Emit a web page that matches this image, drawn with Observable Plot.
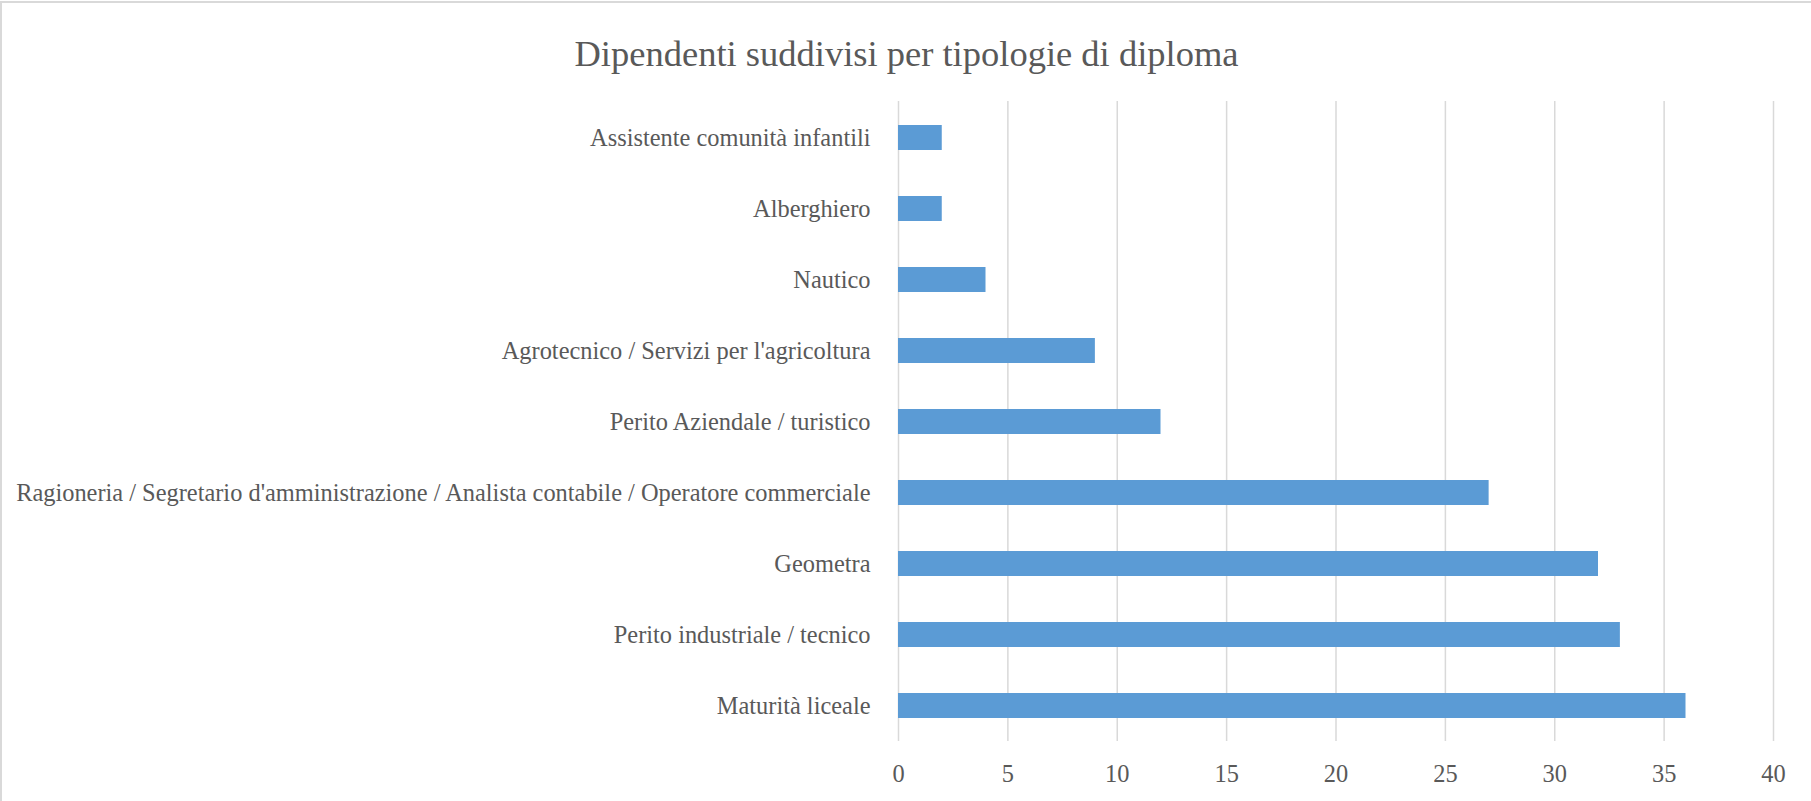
<!DOCTYPE html>
<html>
<head>
<meta charset="utf-8">
<script src="https://cdn.jsdelivr.net/npm/d3@7"></script>
<script src="https://cdn.jsdelivr.net/npm/@observablehq/plot@0.6"></script>
<style>
  html, body { margin: 0; padding: 0; background: #fff; }
  #chart {
    position: relative;
    width: 1811px; height: 800px; box-sizing: border-box;
    border-top: 2px solid #d9d9d9; border-left: 2px solid #d9d9d9;
    margin-top: 1px;
    overflow: hidden;
    font-family: "Liberation Serif", "Times New Roman", serif;
  }
  #title {
    height: 98px; box-sizing: border-box;
    padding-top: 31px;
    text-align: center; font-size: 36.5px; color: #595959;
    line-height: 40px; white-space: nowrap;
  }
  svg { display: block; }
</style>
</head>
<body>
<div id="chart">
  <div id="title">Dipendenti suddivisi per tipologie di diploma</div>
</div>
<script>
const categories = [
  "Assistente comunità infantili",
  "Alberghiero",
  "Nautico",
  "Agrotecnico / Servizi per l'agricoltura",
  "Perito Aziendale / turistico",
  "Ragioneria / Segretario d'amministrazione / Analista contabile / Operatore commerciale",
  "Geometra",
  "Perito industriale / tecnico",
  "Maturità liceale"
];
const values = [2, 2, 4, 9, 12, 27, 32, 33, 36];
const xTicks = [0, 5, 10, 15, 20, 25, 30, 35, 40];

const data = categories.map((c, i) => ({category: c, value: values[i]}));

const plot = Plot.plot({
  width: 1809,
  height: 700,
  marginLeft: 896,
  marginRight: 38,
  marginTop: 0,
  marginBottom: 60,
  style: {fontFamily: "'Liberation Serif', 'Times New Roman', serif", fontSize: "24.4px", color: "#595959", background: "white"},
  x: {domain: [0, 40], ticks: xTicks, label: null},
  y: {domain: categories, paddingInner: 0.648, paddingOuter: 0.324, label: null},
  marks: [
    Plot.ruleX(xTicks, {stroke: "#d9d9d9", strokeWidth: 1.5}),
    Plot.barX(data, {x: "value", y: "category", fill: "#5b9bd5"}),
    Plot.axisX({ticks: xTicks, tickSize: 0, tickPadding: 23, fontSize: 24.4, label: null, fill: "#595959"}),
    Plot.axisY({tickSize: 0, tickPadding: 28, fontSize: 24.4, label: null, fill: "#595959"})
  ]
});
document.getElementById("chart").appendChild(plot);
</script>
</body>
</html>
